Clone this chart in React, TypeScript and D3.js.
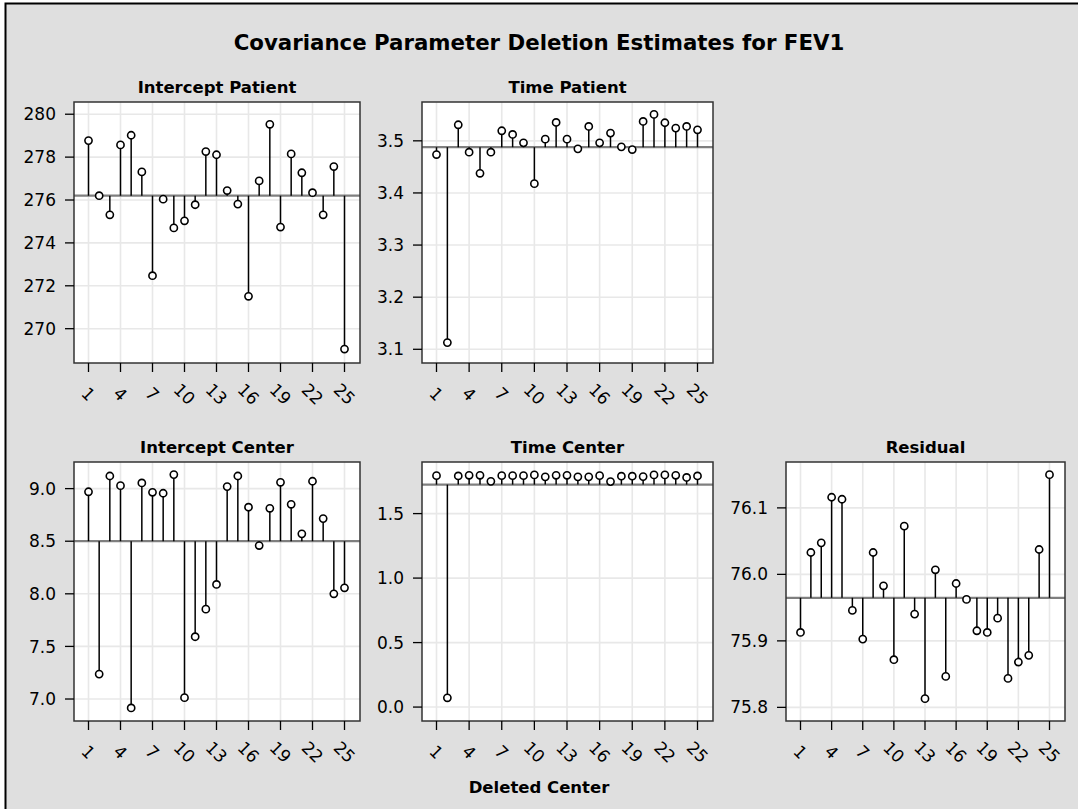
import React from 'react';
import * as d3 from 'd3';

// deleted center index (x axis)
const deletedCenter = [1, 2, 3, 4, 5, 6, 7, 8, 9, 10, 11, 12, 13, 14, 15, 16, 17, 18, 19, 20, 21, 22, 23, 24, 25];
const xTickValues = [1, 4, 7, 10, 13, 16, 19, 22, 25];

// deletion estimates
const interceptPatient = [278.77, 276.2, 275.31, 278.57, 279.02, 277.31, 272.47, 276.04, 274.7, 275.03, 275.78, 278.26, 278.11,
  276.44, 275.81, 271.51, 276.89, 279.53, 274.74, 278.15, 277.27, 276.34, 275.31, 277.56, 269.05];
const timePatient = [3.4737, 3.1128, 3.5308, 3.4782, 3.4377, 3.4782, 3.5193, 3.5122, 3.4961, 3.4178, 3.5032, 3.5353, 3.5032,
  3.4846, 3.5276, 3.4961, 3.5148, 3.4884, 3.4833, 3.5372, 3.5507, 3.5347, 3.5244, 3.5276, 3.5212];
const interceptCenter = [8.97, 7.237, 9.12, 9.028, 6.915, 9.054, 8.965, 8.956, 9.133, 7.013, 7.592, 7.854, 8.089,
  9.019, 9.12, 8.823, 8.459, 8.813, 9.06, 8.851, 8.57, 9.07, 8.715, 8.0, 8.057];
const timeCenter = [1.794, 0.072, 1.792, 1.797, 1.797, 1.75, 1.794, 1.794, 1.794, 1.8, 1.785, 1.797, 1.797,
  1.785, 1.785, 1.794, 1.748, 1.79, 1.79, 1.787, 1.8, 1.8, 1.797, 1.78, 1.792];
const residual = [75.9127, 76.0329, 76.0474, 76.116, 76.113, 75.9458, 75.9027, 76.0329, 75.9828, 75.8717, 76.0725, 75.9403, 75.8131,
  76.0069, 75.8466, 75.9863, 75.9624, 75.9152, 75.9127, 75.9342, 75.8436, 75.8682, 75.8782, 76.0374, 76.15];

// full-data estimates (reference lines)
const fullEstimates = [276.2, 3.4878, 8.5, 1.7246, 75.9648];
const panelTitles = ['Intercept Patient', 'Time Patient', 'Intercept Center', 'Time Center', 'Residual'];
const seriesList = [interceptPatient, timePatient, interceptCenter, timeCenter, residual];
const yTickLists = [
  [270, 272, 274, 276, 278, 280],
  [3.1, 3.2, 3.3, 3.4, 3.5],
  [7.0, 7.5, 8.0, 8.5, 9.0],
  [0.0, 0.5, 1.0, 1.5],
  [75.8, 75.9, 76.0, 76.1],
];
const yDomains = [
  [268.4, 280.57],
  [3.0737, 3.5745],
  [6.791, 9.253],
  [-0.108, 1.9],
  [75.7795, 76.169],
];
const yFormats = ['d', '.1f', '.1f', '.1f', '.1f'];

// panel boxes
const boxes = [
  { x0: 74, x1: 360, y0: 102, y1: 363 },
  { x0: 422, x1: 713, y0: 102, y1: 363 },
  { x0: 74, x1: 360, y0: 462, y1: 721 },
  { x0: 422, x1: 713, y0: 462, y1: 721 },
  { x0: 786, x1: 1065, y0: 462, y1: 721 },
];

const FONT = '"DejaVu Sans", Verdana, sans-serif';

const Panel = ({ i }: { i: number }) => {
  const b = boxes[i];
  const values = seriesList[i];
  const base = fullEstimates[i];
  const x = d3.scaleLinear().domain([1, 25]).range([b.x0 + 14.5, b.x1 - 15.5]);
  const y = d3.scaleLinear().domain(yDomains[i]).range([b.y1, b.y0]);
  const fmt = d3.format(yFormats[i]);
  const cx = (b.x0 + b.x1) / 2;
  return (
    <g>
      <text x={cx} y={b.y0 - 9} textAnchor="middle" fontFamily={FONT} fontWeight="bold" fontSize={16.5} fill="#000">
        {panelTitles[i]}
      </text>
      <rect x={b.x0} y={b.y0} width={b.x1 - b.x0} height={b.y1 - b.y0} fill="#fff" />
      {xTickValues.map(t => (
        <line key={'gx' + t} x1={x(t)} x2={x(t)} y1={b.y0} y2={b.y1} stroke="#e8e8e8" strokeWidth={1.6} />
      ))}
      {yTickLists[i].map(t => (
        <line key={'gy' + t} x1={b.x0} x2={b.x1} y1={y(t)} y2={y(t)} stroke="#e8e8e8" strokeWidth={1.6} />
      ))}
      <line x1={b.x0} x2={b.x1} y1={y(base)} y2={y(base)} stroke="#7f7f7f" strokeWidth={2.2} />
      {values.map((v, k) => (
        <line key={'n' + k} x1={x(deletedCenter[k])} x2={x(deletedCenter[k])} y1={y(base)} y2={y(v)}
          stroke="#000" strokeWidth={1.5} />
      ))}
      {values.map((v, k) => (
        <circle key={'c' + k} cx={x(deletedCenter[k])} cy={y(v)} r={3.6} fill="#fff" stroke="#000" strokeWidth={1.6} />
      ))}
      <rect x={b.x0} y={b.y0} width={b.x1 - b.x0} height={b.y1 - b.y0} fill="none" stroke="#333" strokeWidth={1.5} />
      {yTickLists[i].map(t => (
        <g key={'ty' + t}>
          <line x1={b.x0 - 9} x2={b.x0} y1={y(t)} y2={y(t)} stroke="#000" strokeWidth={1.3} />
          <text x={b.x0 - 18} y={y(t)} dy="0.36em" textAnchor="end" fontFamily={FONT} fontSize={17} fill="#000">
            {fmt(t)}
          </text>
        </g>
      ))}
      {xTickValues.map(t => (
        <g key={'tx' + t}>
          <line x1={x(t)} x2={x(t)} y1={b.y1} y2={b.y1 + 9} stroke="#000" strokeWidth={1.3} />
          <text transform={`translate(${x(t)},${b.y1 + 31}) rotate(45)`} textAnchor="middle" dy="0.36em"
            fontFamily={FONT} fontSize={17} fill="#000">
            {t}
          </text>
        </g>
      ))}
    </g>
  );
};

export default function App() {
  const W = 1078;
  const H = 809;
  return (
    <svg width={W} height={H} style={{ position: 'absolute', left: 0, top: 0, background: '#fff' }}>
      <rect x={5.5} y={3.5} width={W} height={H} fill="#dfdfdf" stroke="#000" strokeWidth={2} />
      <text x={539} y={50} textAnchor="middle" fontFamily={FONT} fontWeight="bold" fontSize={21.3} fill="#000">
        Covariance Parameter Deletion Estimates for FEV1
      </text>
      {boxes.map((_, i) => <Panel key={i} i={i} />)}
      <text x={539} y={793} textAnchor="middle" fontFamily={FONT} fontWeight="bold" fontSize={16.5} fill="#000">
        Deleted Center
      </text>
    </svg>
  );
}
